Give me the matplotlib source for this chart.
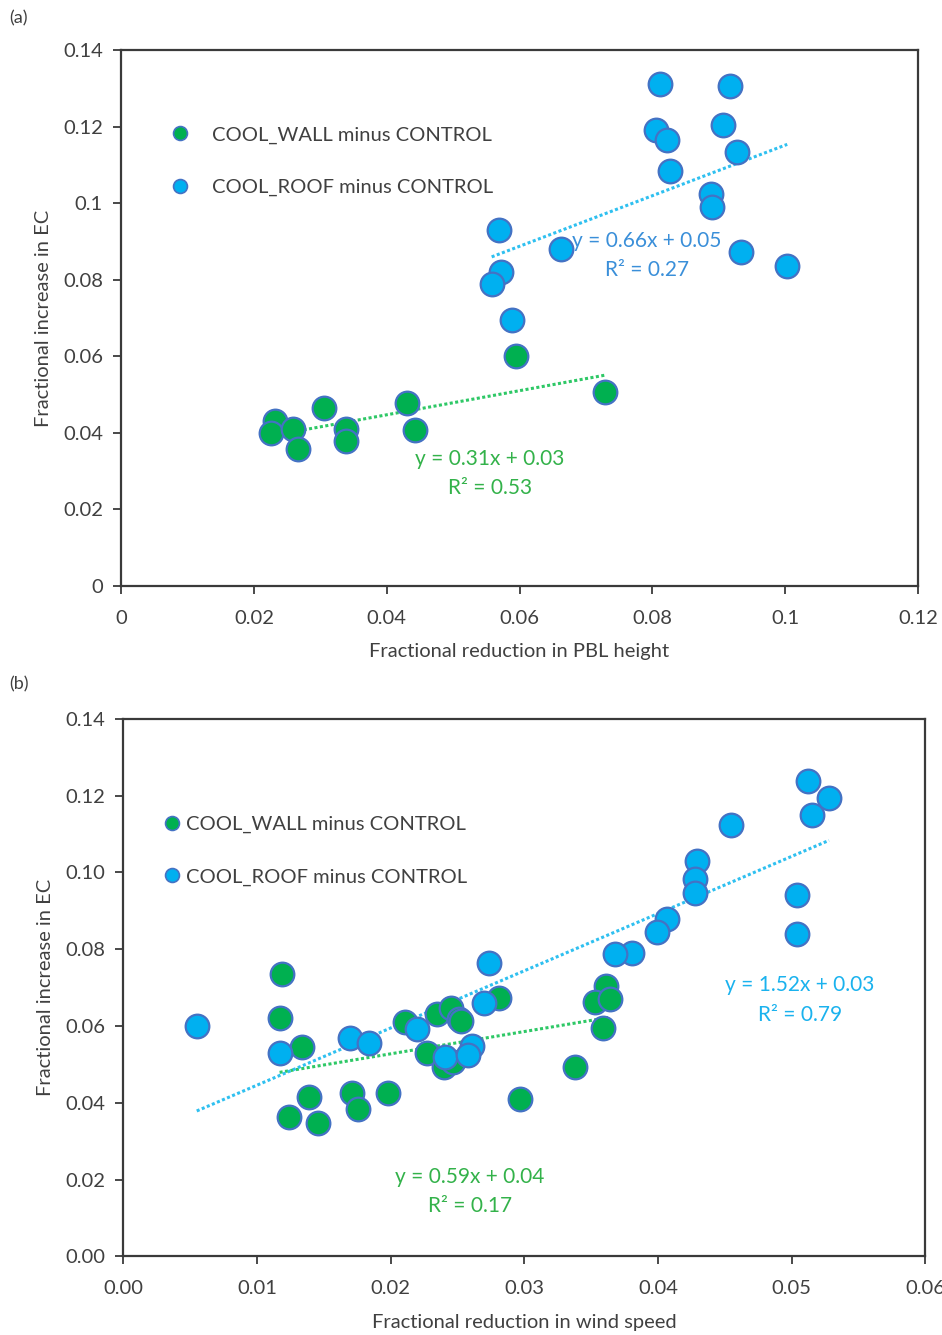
import numpy as np
import matplotlib
matplotlib.use("Agg")
import matplotlib.pyplot as plt
from matplotlib.lines import Line2D

plt.rcParams['font.family'] = ['Lato', 'DejaVu Sans']

# panel (a): PBL height
pbl_wall_x = [0.0594, 0.0729, 0.0431, 0.0442, 0.0305, 0.0339, 0.0339, 0.0232, 0.0226, 0.0259, 0.0266]
pbl_wall_y = [0.0601, 0.0508, 0.0478, 0.0408, 0.0464, 0.0410, 0.0379, 0.0430, 0.0400, 0.0410, 0.0358]
pbl_roof_x = [0.0811, 0.0917, 0.0805, 0.0822, 0.0906, 0.0927, 0.0827, 0.0888, 0.0890, 0.0569,
              0.0663, 0.0933, 0.1003, 0.0572, 0.0558, 0.0588]
pbl_roof_y = [0.1312, 0.1307, 0.1191, 0.1166, 0.1205, 0.1133, 0.1085, 0.1024, 0.0990, 0.0929,
              0.0880, 0.0873, 0.0835, 0.0820, 0.0788, 0.0696]

# panel (b): wind speed
ws_wall_x = [0.0119, 0.0117, 0.0134, 0.0139, 0.0124, 0.0146, 0.0171, 0.0176, 0.0198, 0.0297,
             0.0211, 0.0235, 0.0245, 0.0251, 0.0253, 0.0281, 0.0227, 0.0240, 0.0247, 0.0361,
             0.0353, 0.0364, 0.0359, 0.0338]
ws_wall_y = [0.0736, 0.0620, 0.0546, 0.0414, 0.0364, 0.0348, 0.0425, 0.0383, 0.0425, 0.0409,
             0.0611, 0.0631, 0.0646, 0.0618, 0.0614, 0.0672, 0.0529, 0.0494, 0.0507, 0.0704,
             0.0663, 0.0670, 0.0594, 0.0494]
ws_roof_x = [0.0512, 0.0528, 0.0515, 0.0455, 0.0429, 0.0428, 0.0428, 0.0504, 0.0504, 0.0407,
             0.0399, 0.0381, 0.0368, 0.0274, 0.0270, 0.0055, 0.0117, 0.0170, 0.0184, 0.0220,
             0.0241, 0.0261, 0.0258]
ws_roof_y = [0.1237, 0.1194, 0.1150, 0.1124, 0.1031, 0.0984, 0.0947, 0.0940, 0.0840, 0.0880,
             0.0845, 0.0791, 0.0787, 0.0763, 0.0659, 0.0601, 0.0529, 0.0568, 0.0555, 0.0592,
             0.0519, 0.0548, 0.0525]

labels = ["COOL_WALL minus CONTROL", "COOL_ROOF minus CONTROL"]
eq_a = [("y = 0.31x + 0.03", "R² = 0.53"), ("y = 0.66x + 0.05", "R² = 0.27")]
eq_b = [("y = 0.59x + 0.04", "R² = 0.17"), ("y = 1.52x + 0.03", "R² = 0.79")]

GREEN = '#00B050'
BLUE = '#00B0F0'
EDGE = '#4472C4'
TXT = '#404040'

fig = plt.figure(figsize=(9.42, 13.35), dpi=100)
ax1 = fig.add_axes([0.1285, 0.5610, 0.8461, 0.4015])
ax2 = fig.add_axes([0.1308, 0.0589, 0.8514, 0.4026])


def trend(ax, x, y, color):
    x = np.array(x)
    k, b = np.polyfit(x, y, 1)
    xx = np.array([x.min(), x.max()])
    ax.plot(xx, k * xx + b, color=color, lw=2.2, ls=(0, (1, 0.8)), zorder=2)


def style(ax, xticks, yticks, fmt):
    ax.set_xlim(xticks[0], xticks[-1])
    ax.set_ylim(yticks[0], yticks[-1])
    ax.set_xticks(xticks)
    ax.set_yticks(yticks)
    ax.set_xticklabels([fmt(v) for v in xticks])
    ax.set_yticklabels([fmt(v) for v in yticks])
    for s in ax.spines.values():
        s.set_color('#3a3a3a')
        s.set_linewidth(1.6)
    ax.tick_params(direction='out', length=6, width=1.3, color='#3a3a3a',
                   labelsize=14.5, labelcolor=TXT, pad=7)
    ax.tick_params(axis='x', pad=11)
    ax.set_ylabel("Fractional increase in EC", fontsize=14.5, color=TXT, labelpad=8)


def legend(ax, anchor, msize, gap):
    h = [Line2D([], [], ls='', marker='o', ms=msize, mfc=c, mec=EDGE, mew=1.2)
         for c in (GREEN, BLUE)]
    ax.legend(h, labels, loc='upper left', bbox_to_anchor=anchor, frameon=False,
              fontsize=14.5, labelcolor=TXT, handlelength=1.0, handletextpad=gap,
              labelspacing=1.75, borderpad=0, borderaxespad=0)


mk = dict(s=290, edgecolors=EDGE, linewidths=1.6, zorder=3)

# (a)
trend(ax1, pbl_wall_x, pbl_wall_y, '#2EC866')
trend(ax1, pbl_roof_x, pbl_roof_y, '#2FC0F0')
ax1.scatter(pbl_wall_x, pbl_wall_y, c=GREEN, **mk)
ax1.scatter(pbl_roof_x, pbl_roof_y, c=BLUE, **mk)
style(ax1, [0, 0.02, 0.04, 0.06, 0.08, 0.1, 0.12],
      [0, 0.02, 0.04, 0.06, 0.08, 0.1, 0.12, 0.14], lambda v: f"{v:g}")
ax1.set_xlabel("Fractional reduction in PBL height", fontsize=14.5, color=TXT, labelpad=12)
legend(ax1, (0.0615, 0.858), 10, 1.1)
for (t1, t2), (fx, fy), col in zip(eq_a, [(0.463, 0.237), (0.660, 0.644)], ['#33B24A', '#3A8FD9']):
    ax1.text(fx, fy, t1, transform=ax1.transAxes, ha='center', va='center', fontsize=15, color=col)
    ax1.text(fx, fy - 0.054, t2, transform=ax1.transAxes, ha='center', va='center', fontsize=15, color=col)
fig.text(0.010, 0.986, "(a)", fontsize=13, color=TXT, va='center')

# (b)
trend(ax2, ws_wall_x, ws_wall_y, '#2EC866')
trend(ax2, ws_roof_x, ws_roof_y, '#2FC0F0')
ax2.scatter(ws_wall_x, ws_wall_y, c=GREEN, **mk)
ax2.scatter(ws_roof_x, ws_roof_y, c=BLUE, **mk)
style(ax2, [0, 0.01, 0.02, 0.03, 0.04, 0.05, 0.06],
      [0, 0.02, 0.04, 0.06, 0.08, 0.1, 0.12, 0.14], lambda v: f"{v:.2f}")
ax2.set_xlabel("Fractional reduction in wind speed", fontsize=14.5, color=TXT, labelpad=12)
legend(ax2, (0.048, 0.820), 10, 0.2)
for (t1, t2), (fx, fy), col in zip(eq_b, [(0.432, 0.148), (0.844, 0.505)], ['#33B24A', '#1AB2EE']):
    ax2.text(fx, fy, t1, transform=ax2.transAxes, ha='center', va='center', fontsize=15, color=col)
    ax2.text(fx, fy - 0.055, t2, transform=ax2.transAxes, ha='center', va='center', fontsize=15, color=col)
fig.text(0.010, 0.487, "(b)", fontsize=13, color=TXT, va='center')

fig.savefig("out.png", dpi=100)
